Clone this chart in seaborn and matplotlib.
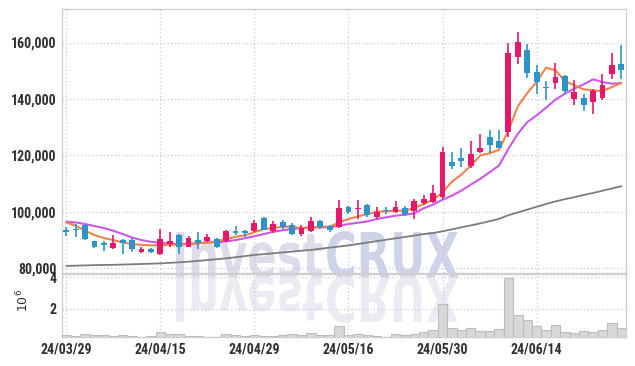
import numpy as np
import pandas as pd
import matplotlib
matplotlib.use('Agg')
import matplotlib.pyplot as plt
import seaborn as sns
from matplotlib.textpath import TextPath
from matplotlib.font_manager import FontProperties, fontManager
from matplotlib.patches import PathPatch
from matplotlib.path import Path

dates = ['24/03/29','24/04/01','24/04/02','24/04/03','24/04/04','24/04/05','24/04/08','24/04/09','24/04/11','24/04/12',
         '24/04/15','24/04/16','24/04/17','24/04/18','24/04/19','24/04/22','24/04/23','24/04/24','24/04/25','24/04/26',
         '24/04/29','24/04/30','24/05/02','24/05/03','24/05/07','24/05/08','24/05/09','24/05/10','24/05/13','24/05/14',
         '24/05/16','24/05/17','24/05/20','24/05/21','24/05/22','24/05/23','24/05/24','24/05/27','24/05/28','24/05/29',
         '24/05/30','24/05/31','24/06/03','24/06/04','24/06/05','24/06/07','24/06/10','24/06/11','24/06/12','24/06/13',
         '24/06/14','24/06/17','24/06/18','24/06/19','24/06/20','24/06/21','24/06/24','24/06/25','24/06/26','24/06/27']

opens = [93500, 93900, 95100, 89400, 89000, 86900, 89900, 89800, 85500, 86800,
         85100, 88500, 91800, 87600, 89900, 89600, 90200, 89600, 93200, 93200,
         93200, 97600, 93200, 96300, 95300, 92000, 93200, 96800, 95000, 94600,
         101500, 100900, 102400, 97900, 100600, 100000, 101300, 100300, 102900, 103500,
         105000, 117700, 118900, 116000, 121100, 126600, 124900, 128200, 154900, 157300,
         149500, 144000, 145600, 148000, 140100, 140400, 138900, 140300, 149000, 152300]
closes = [92600, 93600, 90100, 87600, 88000, 89000, 88800, 86600, 86800, 85700,
          90200, 89600, 87500, 90600, 89000, 91100, 87300, 93200, 92300, 92300,
          95900, 93600, 95700, 94500, 92200, 94200, 96800, 94400, 93400, 101100,
          99700, 101200, 98900, 99700, 100100, 101700, 99100, 103900, 104600, 106700,
          121300, 116300, 117900, 120500, 122700, 123800, 122600, 156300, 160200, 149200,
          146000, 143700, 147800, 142800, 142400, 137900, 142700, 144800, 151900, 150400]
highs = [94500, 95500, 95700, 89700, 89500, 91800, 90200, 90500, 87500, 87100,
         93800, 92600, 92000, 91200, 92600, 92000, 90500, 93500, 95000, 93500,
         97100, 98000, 96800, 96900, 95900, 95300, 98200, 97100, 95300, 104200,
         102000, 104200, 102600, 101500, 101500, 103600, 101900, 104600, 106000, 109500,
         122800, 121100, 122600, 125200, 127600, 128800, 128800, 159900, 163600, 159600,
         152200, 146200, 152700, 148400, 146600, 141600, 143600, 149000, 156400, 159000]
lows = [91400, 90900, 89800, 87200, 85900, 86700, 84900, 85700, 85200, 85400,
        84500, 87300, 85000, 87300, 86700, 89100, 87000, 89300, 91800, 90900,
        92800, 93400, 92500, 93900, 91800, 91400, 92800, 93900, 92700, 94000,
        99200, 97400, 98200, 97500, 99100, 99600, 98500, 97400, 102400, 103200,
        104600, 115200, 115700, 115600, 120800, 120700, 122400, 126400, 152500, 147500,
        141600, 139500, 143600, 141600, 138000, 135700, 134500, 139500, 146900, 147200]
volumes_m = [0.30, 0.28, 0.37, 0.33, 0.30, 0.25, 0.33, 0.25, 0.22, 0.25,
             0.52, 0.40, 0.40, 0.25, 0.25, 0.22, 0.22, 0.37, 0.33, 0.28,
             0.30, 0.28, 0.25, 0.30, 0.40, 0.35, 0.48, 0.33, 0.33, 0.90,
             0.33, 0.39, 0.33, 0.28, 0.22, 0.39, 0.33, 0.39, 0.50, 0.64,
             2.28, 0.75, 0.64, 0.75, 0.58, 0.58, 0.70, 3.94, 1.60, 1.28,
             0.90, 0.64, 0.96, 0.50, 0.43, 0.58, 0.50, 0.64, 1.07, 0.75]
ma_short = [96150, 94980, 93200, 91670, 90600, 89890, 89040, 88460, 88210, 87970,
            88110, 88210, 88210, 88460, 88680, 89040, 89390, 90240, 91060, 91600,
            92660, 93800, 94160, 94620, 94620, 94160, 94370, 94620, 94620, 96150,
            97360, 98290, 99140, 99960, 100070, 100320, 100320, 101280, 102700, 104230,
            106830, 110640, 113130, 116330, 119890, 120710, 121920, 128790, 137330, 142060,
            145980, 151100, 150140, 146330, 144800, 143380, 143020, 142770, 144200, 145620]
ma_mid = [96400, 96150, 95580, 94870, 94160, 93200, 92020, 90810, 89890, 89280,
          88930, 88680, 88460, 88570, 88820, 89040, 89040, 89390, 89890, 90530,
          91240, 92020, 92840, 93380, 93800, 94160, 94370, 94370, 94440, 94980,
          95580, 96040, 96510, 97360, 97930, 98540, 98890, 99350, 101210, 102450,
          104230, 105650, 107430, 109570, 111600, 113950, 116330, 122270, 127610, 131740,
          134130, 136870, 139710, 141850, 143630, 145160, 146940, 145980, 145410, 145620]
ma_long = [80700, 80800, 80900, 81000, 81050, 81100, 81200, 81300, 81400, 81500,
           81600, 81800, 82000, 82200, 82500, 82800, 83100, 83400, 83800, 84200,
           84600, 84900, 85200, 85500, 85800, 86100, 86400, 86800, 87200, 87600,
           88000, 88500, 89000, 89500, 90000, 90500, 91000, 91500, 92000, 92400,
           93000, 93700, 94400, 95100, 95800, 96600, 97400, 98700, 99700, 100700,
           101700, 102700, 103600, 104400, 105100, 105900, 106600, 107400, 108200, 109000]
price_ticks = [80000, 100000, 120000, 140000, 160000]
volume_ticks = [2, 4]
date_tick_idx = [0, 10, 20, 30, 40, 50]
watermark = ['Invest', 'CRUX']

UP, DOWN = '#e5186a', '#2f93c8'
C_SHORT, C_MID, C_LONG = '#f0824e', '#cb58ea', '#7c7c7c'
GRID = '#c6c9dd'
SPINE = '#cfcfcf'

sns.set_theme(style='white')
names = {f.name for f in fontManager.ttflist}
tick_family = 'DejaVu Sans'
for cand in ['Liberation Sans Narrow', 'Roboto Condensed', 'Open Sans Condensed']:
    if cand in names:
        tick_family = cand
        break
plt.rcParams['font.family'] = [tick_family, 'DejaVu Sans']

W, H = 635, 366
fig = plt.figure(figsize=(W / 100, H / 100), dpi=100, facecolor='white')


def fx(px):
    return px / W


def fy(py):
    return 1 - py / H


ax = fig.add_axes([fx(62), fy(273), fx(626) - fx(62), fy(9) - fy(273)])
axv = fig.add_axes([fx(62), fy(337), fx(626) - fx(62), fy(274) - fy(337)])
for a in (ax, axv):
    a.set_facecolor('none')

# watermark (behind axes)
fp = FontProperties(family='DejaVu Sans', weight='bold')
p1 = TextPath((0, 0), watermark[0], size=100, prop=fp)
adv = p1.get_extents().x1 + 6
p2 = TextPath((adv, 0), watermark[1], size=100, prop=fp)
allv = np.vstack([p1.vertices, p2.vertices])
bx0, bx1 = allv[:, 0].min(), allv[:, 0].max()
cap = TextPath((0, 0), 'I', size=100, prop=fp).get_extents().y1
X0, X1, TOP, BASE = 172, 458, 232, 277


def map_path(p, mirror=False):
    v = p.vertices.copy()
    px = X0 + (v[:, 0] - bx0) / (bx1 - bx0) * (X1 - X0)
    if mirror:
        py = BASE + v[:, 1] / cap * (BASE - TOP)
    else:
        py = BASE - v[:, 1] / cap * (BASE - TOP)
    nv = np.column_stack([fx(px), fy(py)])
    return Path(nv, p.codes)


for p, col in [(p1, '#dcdcea'), (p2, '#cfd3e8')]:
    fig.patches.append(PathPatch(map_path(p), transform=fig.transFigure, facecolor=col,
                                 edgecolor='none', zorder=-5))
    fig.patches.append(PathPatch(map_path(p, True), transform=fig.transFigure, facecolor='#ebebf3',
                                 edgecolor='none', zorder=-5))

idx = np.arange(len(dates))
o = np.array(opens, float)
c = np.array(closes, float)
hi = np.array(highs, float)
lo = np.array(lows, float)
colors = [UP if cc >= oo else DOWN for oo, cc in zip(o, c)]

# moving averages
for vals, col, lw in [(ma_long, C_LONG, 1.3), (ma_mid, C_MID, 1.5), (ma_short, C_SHORT, 1.5)]:
    sns.lineplot(x=idx, y=vals, ax=ax, color=col, lw=lw, zorder=3)

ax.vlines(idx, lo, hi, colors=colors, lw=1.2, zorder=4)
body_h = np.maximum(np.abs(c - o), 350)
ax.bar(idx, body_h, bottom=np.minimum(o, c), width=0.62, color=colors, zorder=5, linewidth=0)

ax.set_xlim(-0.45, 59.5)
ax.set_ylim(78200, 171900)
ax.set_yticks(price_ticks)
ax.set_yticklabels([f'{t:,}' for t in price_ticks])
ax.set_xticks(date_tick_idx)
ax.set_xticklabels([])
ax.grid(True, linestyle=(0, (1, 2)), color=GRID, lw=0.9)

# volume
dfv = pd.DataFrame({'i': idx, 'v': volumes_m})
sns.barplot(data=dfv, x='i', y='v', ax=axv, color='#d8d8d8', edgecolor='#bdbdbd',
            linewidth=0.8, width=1.0, saturation=1, zorder=3)
axv.set_xlim(-0.45, 59.5)
axv.set_ylim(0.2, 4.21)
axv.set_yticks(volume_ticks)
axv.set_yticklabels([str(t) for t in volume_ticks])
axv.set_xticks(date_tick_idx)
axv.set_xticklabels([dates[i] for i in date_tick_idx])
axv.set_xlabel('')
axv.set_ylabel(r'$10^6$', fontsize=9, color='#333333', family='DejaVu Sans')
axv.yaxis.set_label_coords(-0.055, 0.58)
axv.grid(True, linestyle=(0, (1, 2)), color=GRID, lw=0.9)

for a in (ax, axv):
    a.tick_params(length=0, labelsize=10, labelcolor='#303030', pad=4)
    for s in a.spines.values():
        s.set_color(SPINE)
        s.set_linewidth(1.0)
    a.set_axisbelow(True)
    for lab in a.get_xticklabels() + a.get_yticklabels():
        lab.set_fontweight('bold')

fig.savefig('out.png', dpi=100, facecolor='white')
